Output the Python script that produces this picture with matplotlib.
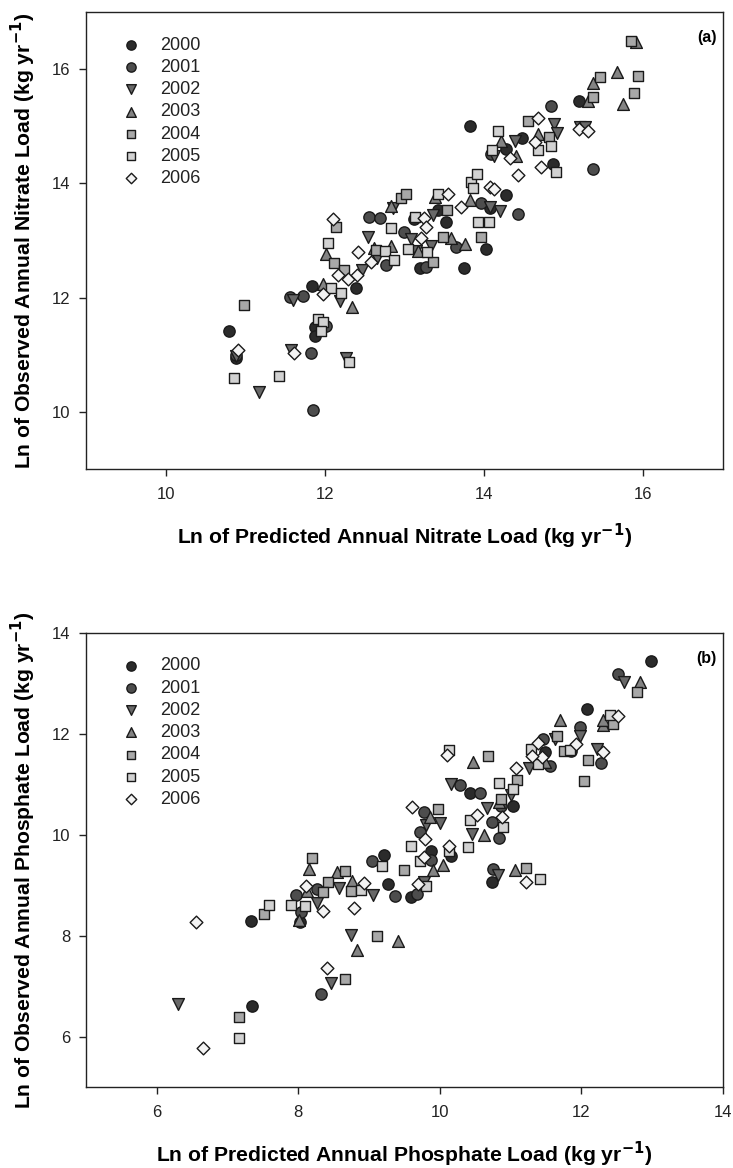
import matplotlib
matplotlib.use("Agg")
import matplotlib.pyplot as plt

plt.rcParams['font.family'] = ['Liberation Sans', 'DejaVu Sans']

years = ['2000', '2001', '2002', '2003', '2004', '2005', '2006']

# ---------------- Panel (a): nitrate ----------------
n2000_x = [10.80, 10.89, 11.84, 11.87, 11.87, 12.39, 13.12, 13.20, 13.52, 13.42, 13.75, 13.82, 14.02, 14.08, 14.27, 14.27, 14.47, 14.86, 15.19]
n2000_y = [11.41, 10.94, 12.21, 11.49, 11.32, 12.16, 13.38, 12.52, 13.33, 13.54, 12.51, 15.00, 12.85, 13.57, 13.79, 14.61, 14.80, 14.34, 15.45]
n2001_x = [10.89, 11.56, 11.73, 12.02, 11.82, 11.85, 12.55, 12.69, 12.77, 12.99, 13.27, 13.65, 13.96, 14.09, 14.42, 14.84, 15.37]
n2001_y = [10.99, 12.01, 12.02, 11.50, 11.03, 10.03, 13.42, 13.40, 12.57, 13.15, 12.54, 12.88, 13.65, 14.51, 13.47, 15.36, 14.26]
n2002_x = [10.89, 11.17, 11.60, 11.57, 12.19, 12.27, 12.46, 12.54, 12.66, 13.08, 13.15, 13.33, 13.36, 12.86, 14.12, 14.08, 14.20, 14.39, 14.88, 14.91, 15.21, 15.27]
n2002_y = [10.98, 10.34, 11.96, 11.08, 11.94, 10.94, 12.49, 13.07, 12.70, 13.02, 12.82, 12.90, 13.45, 13.57, 14.48, 13.58, 13.51, 14.74, 15.04, 14.89, 14.98, 14.98]
n2003_x = [12.01, 11.98, 12.34, 12.62, 12.83, 12.83, 13.17, 13.38, 13.59, 13.76, 13.82, 14.21, 14.40, 14.68, 15.30, 15.37, 15.67, 15.74, 15.91]
n2003_y = [12.76, 12.23, 11.83, 12.87, 12.91, 13.60, 12.81, 13.77, 13.04, 12.93, 13.71, 14.74, 14.48, 14.86, 15.45, 15.75, 15.95, 15.39, 16.47]
n2004_x = [10.98, 12.14, 12.12, 12.24, 12.64, 12.95, 13.02, 13.36, 13.48, 13.54, 13.96, 14.55, 14.81, 15.37, 15.45, 15.88, 15.93, 15.85]
n2004_y = [11.87, 13.23, 12.61, 12.49, 12.84, 13.74, 13.82, 12.62, 13.07, 13.54, 13.07, 15.10, 14.81, 15.52, 15.86, 15.59, 15.88, 16.49]
n2005_x = [10.86, 11.42, 11.91, 11.98, 11.95, 12.30, 12.04, 12.08, 12.20, 12.76, 12.87, 12.83, 13.04, 13.13, 13.28, 13.42, 13.83, 13.91, 13.86, 13.92, 14.06, 14.10, 14.18, 14.68, 14.84, 14.90]
n2005_y = [10.60, 10.63, 11.62, 11.57, 11.41, 10.87, 12.96, 12.16, 12.08, 12.82, 12.65, 13.22, 12.85, 13.42, 12.80, 13.82, 14.02, 14.17, 13.92, 13.33, 13.33, 14.58, 14.92, 14.58, 14.65, 14.20]
n2006_x = [10.91, 11.61, 12.10, 11.98, 12.17, 12.29, 12.40, 12.41, 12.58, 13.21, 13.25, 13.27, 13.55, 13.71, 14.08, 14.12, 14.32, 14.43, 14.64, 14.68, 14.71, 15.19, 15.31]
n2006_y = [11.09, 11.03, 13.37, 12.07, 12.40, 12.33, 12.40, 12.80, 12.63, 13.05, 13.40, 13.23, 13.82, 13.59, 13.94, 13.91, 14.45, 14.14, 14.72, 15.14, 14.29, 14.95, 14.92]

# ---------------- Panel (b): phosphate ----------------
p2000_x = [12.98, 12.08, 11.49, 11.85, 11.03, 10.74, 10.43, 9.87, 10.15, 9.21, 9.26, 9.59, 8.02, 7.33, 7.34]
p2000_y = [13.45, 12.49, 11.64, 11.66, 10.58, 9.06, 10.83, 9.67, 9.57, 9.59, 9.02, 8.76, 8.28, 8.30, 6.60]
p2001_x = [12.51, 11.98, 12.27, 11.56, 11.46, 10.86, 10.73, 10.84, 10.75, 10.56, 10.29, 9.77, 9.72, 9.88, 9.04, 9.36, 9.67, 8.26, 7.97, 8.04, 8.32]
p2001_y = [13.19, 12.13, 11.43, 11.37, 11.90, 10.57, 10.25, 9.93, 9.32, 10.83, 10.98, 10.46, 10.05, 9.50, 9.48, 8.78, 8.82, 8.93, 8.80, 8.47, 6.84]
p2002_x = [12.60, 11.98, 12.22, 11.26, 11.62, 11.00, 10.66, 10.45, 10.82, 10.15, 10.00, 9.80, 9.77, 9.06, 8.58, 8.27, 8.75, 8.46, 6.30]
p2002_y = [13.02, 11.96, 11.70, 11.32, 11.90, 10.79, 10.53, 10.01, 9.20, 11.01, 10.24, 10.20, 9.06, 8.80, 8.95, 8.65, 8.02, 7.07, 6.64]
p2003_x = [12.83, 12.31, 12.31, 11.69, 11.49, 10.47, 10.63, 10.83, 11.06, 10.05, 9.90, 9.86, 8.55, 8.15, 8.12, 8.01, 8.76, 8.83, 9.41]
p2003_y = [13.02, 12.18, 12.28, 12.28, 11.45, 11.44, 9.99, 10.64, 9.30, 9.41, 9.30, 10.36, 9.26, 9.32, 8.89, 8.32, 9.09, 7.71, 7.90]
p2004_x = [12.78, 12.45, 12.09, 12.04, 11.65, 11.75, 10.68, 11.09, 11.21, 9.97, 9.49, 9.11, 8.66, 8.20, 8.66, 8.42, 8.35, 8.75, 7.52, 7.16, 10.86]
p2004_y = [12.84, 12.19, 11.49, 11.06, 11.96, 11.66, 11.57, 11.09, 9.35, 10.52, 9.30, 7.99, 7.14, 9.54, 9.28, 9.06, 8.87, 8.89, 8.43, 6.38, 10.70]
p2005_x = [12.40, 11.84, 11.29, 11.38, 11.42, 10.13, 11.03, 10.83, 10.89, 10.43, 10.40, 10.13, 9.72, 9.59, 9.18, 9.80, 8.88, 8.09, 7.90, 7.59, 7.16]
p2005_y = [12.38, 11.68, 11.71, 11.40, 9.13, 11.69, 10.90, 11.03, 10.15, 10.30, 9.76, 9.68, 9.48, 9.77, 9.39, 8.98, 8.90, 8.58, 8.61, 8.61, 5.98]
p2006_x = [12.51, 12.31, 11.93, 11.39, 11.44, 11.30, 11.07, 10.88, 10.53, 10.13, 10.10, 9.61, 9.79, 9.77, 9.69, 11.22, 8.93, 8.79, 8.35, 8.11, 8.40, 6.55, 6.65]
p2006_y = [12.36, 11.65, 11.79, 11.82, 11.55, 11.57, 11.33, 10.35, 10.39, 9.78, 11.59, 10.55, 9.92, 9.55, 9.02, 9.07, 9.04, 8.54, 8.49, 8.98, 7.35, 8.27, 5.77]

nitrate = [(n2000_x, n2000_y), (n2001_x, n2001_y), (n2002_x, n2002_y), (n2003_x, n2003_y),
           (n2004_x, n2004_y), (n2005_x, n2005_y), (n2006_x, n2006_y)]
phosphate = [(p2000_x, p2000_y), (p2001_x, p2001_y), (p2002_x, p2002_y), (p2003_x, p2003_y),
             (p2004_x, p2004_y), (p2005_x, p2005_y), (p2006_x, p2006_y)]

markers = ['o', 'o', 'v', '^', 's', 's', 'D']
sizes = [66, 66, 72, 72, 54, 54, 42]
colors = ['#2b2b2b', '#4d4d4d', '#686868', '#838383', '#a8a8a8', '#d2d2d2', '#f4f4f4']
edge = '#1a1a1a'

fig = plt.figure(figsize=(7.33, 11.68), dpi=100)
ax1 = fig.add_axes([86/733, 1-469/1168, 637/733, 457/1168])
ax2 = fig.add_axes([86/733, 1-1087/1168, 637/733, 454/1168])


def draw(ax, data, xlim, ylim, xticks, yticks, xlabel, ylabel, tag):
    for (xs, ys), m, s, c, lab in zip(data, markers, sizes, colors, years):
        ax.scatter(xs, ys, marker=m, s=s, facecolor=c, edgecolor=edge,
                   linewidth=1.0, label=lab, zorder=3)
    ax.set_xlim(*xlim)
    ax.set_ylim(*ylim)
    ax.set_xticks(xticks)
    ax.set_yticks(yticks)
    ax.tick_params(direction='out', length=5, width=1, labelsize=12,
                   colors='#222222', pad=6)
    ax.tick_params(axis='x', pad=8)
    for sp in ax.spines.values():
        sp.set_linewidth(1.0)
        sp.set_color('#222222')
    ax.set_xlabel(xlabel, fontsize=15.2, fontweight='bold', labelpad=14)
    ax.set_ylabel(ylabel, fontsize=15.2, fontweight='bold', labelpad=10)
    ax.text(0.99, 0.944, tag, transform=ax.transAxes, ha='right', va='center',
            fontsize=11.5, fontweight='bold')
    leg = ax.legend(loc='upper left', bbox_to_anchor=(0.045, 0.962), frameon=False,
                    fontsize=13, markerscale=0.82, handletextpad=1.1,
                    labelspacing=0.29, borderaxespad=0, handlelength=1.0)
    for t in leg.get_texts():
        t.set_color('#222222')


draw(ax1, nitrate, (9, 17), (9, 17), [10, 12, 14, 16], [10, 12, 14, 16],
     'Ln of Predicted Annual Nitrate Load (kg yr$^{\\mathbf{-1}}$)',
     'Ln of Observed Annual Nitrate Load (kg yr$^{\\mathbf{-1}}$)', '(a)')
draw(ax2, phosphate, (5, 14), (5, 14), [6, 8, 10, 12, 14], [6, 8, 10, 12, 14],
     'Ln of Predicted Annual Phosphate Load (kg yr$^{\\mathbf{-1}}$)',
     'Ln of Observed Annual Phosphate Load (kg yr$^{\\mathbf{-1}}$)', '(b)')

fig.savefig('out.png', dpi=100)
